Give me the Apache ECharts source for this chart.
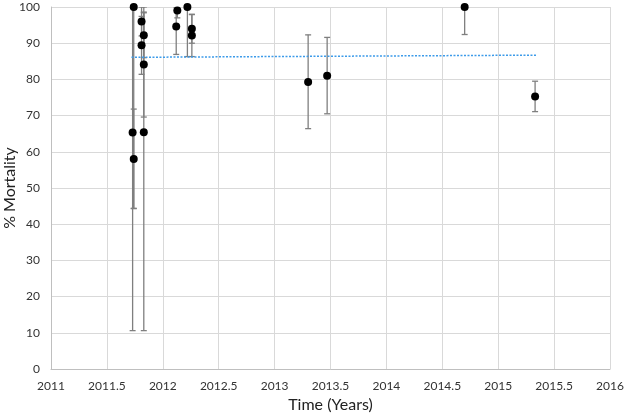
<!DOCTYPE html>
<html><head><meta charset="utf-8">
<script src="https://cdn.jsdelivr.net/npm/echarts@6/dist/echarts.min.js"></script>
<style>html,body{margin:0;padding:0;background:#fff}#c{width:625px;height:416px}</style>
</head><body><div id="c"></div>
<script>
var timeYears = [2011.74, 2011.73, 2011.74, 2011.81, 2011.83, 2011.81, 2011.83, 2011.83, 2012.13, 2012.12, 2012.22, 2012.26, 2012.26, 2013.30, 2013.47, 2014.70, 2015.33];
var mortality = [100, 65.3, 58.0, 96.0, 92.2, 89.4, 84.1, 65.4, 99.0, 94.6, 100, 94.0, 92.1, 79.3, 81.0, 100, 75.3];
var errLow    = [44.3, 10.6, 44.4, 92.0, 86.0, 81.4, 69.6, 10.6, 97.0, 86.9, 86.3, 90.0, 86.3, 66.4, 70.5, 92.4, 71.1];
var errHigh   = [100, 100, 71.8, 100, 98.4, 97.4, 98.6, 100, 100, 100, 100, 98.0, 97.9, 92.3, 91.6, 100, 79.5];
var trendX = [2011.72, 2015.34];
var trendY = [86.1, 86.7];
var xTicks = [2011, 2011.5, 2012, 2012.5, 2013, 2013.5, 2014, 2014.5, 2015, 2015.5, 2016];

var chart = echarts.init(document.getElementById('c'));
var errData = timeYears.map(function(t, i){ return [t, errLow[i], errHigh[i]]; });
var ptData = timeYears.map(function(t, i){ return [t, mortality[i]]; });
var trendData = trendX.map(function(t, i){ return [t, trendY[i]]; });
var gridStyle = {color:'#d9d9d9', width:1};
var FONT = 'Lato';
chart.setOption({
  animation:false,
  grid:{left:51, right:15, top:7, bottom:47, containLabel:false, outerBoundsMode:'none'},
  xAxis:{type:'value', min:2011, max:2016, interval:0.5,
    name:'Time (Years)', nameLocation:'middle', nameGap:28, nameMoveOverlap:false,
    nameTextStyle:{fontSize:16, color:'#222', fontFamily:FONT},
    axisLine:{show:true, lineStyle:{color:'#bfbfbf'}}, axisTick:{show:false},
    axisLabel:{color:'#333', fontSize:12, margin:11, fontFamily:FONT,
      formatter:function(v){ return String(Math.round(v*10)/10); }},
    splitLine:{show:true, lineStyle:gridStyle}},
  yAxis:{type:'value', min:0, max:100, interval:10,
    name:'% Mortality', nameLocation:'middle', nameGap:33, nameRotate:90, nameMoveOverlap:false,
    nameTextStyle:{fontSize:16, color:'#222', fontFamily:FONT},
    axisLine:{show:true, lineStyle:{color:'#bfbfbf'}}, axisTick:{show:false},
    axisLabel:{color:'#333', fontSize:12, margin:11, fontFamily:FONT},
    splitLine:{show:true, lineStyle:gridStyle}},
  series:[
    {type:'custom', data:errData, z:2, clip:true,
      renderItem:function(params, api){
        var x = api.value(0), lo = api.value(1), hi = api.value(2);
        var pLo = api.coord([x, lo]), pHi = api.coord([x, hi]);
        var w = 3;
        var st = {stroke:'#7f7f7f', lineWidth:1.3};
        return {type:'group', children:[
          {type:'line', shape:{x1:pLo[0], y1:pLo[1], x2:pHi[0], y2:pHi[1]}, style:st},
          {type:'line', shape:{x1:pLo[0]-w, y1:pLo[1], x2:pLo[0]+w, y2:pLo[1]}, style:st},
          {type:'line', shape:{x1:pHi[0]-w, y1:pHi[1], x2:pHi[0]+w, y2:pHi[1]}, style:st}
        ]};
      }},
    {type:'line', data:trendData, symbol:'none', z:3,
      lineStyle:{color:'#3d9be9', width:1.5, type:[2,1.5]}},
    {type:'scatter', data:ptData, symbol:'circle', symbolSize:8, z:4,
      itemStyle:{color:'#000', opacity:1}}
  ]
});
</script></body></html>
